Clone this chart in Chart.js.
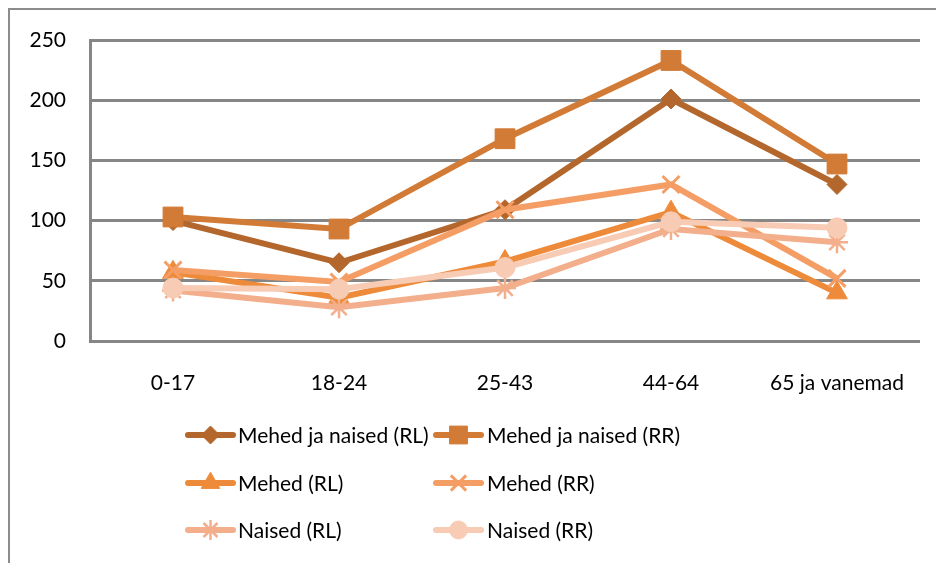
<!DOCTYPE html>
<html>
<head>
<meta charset="utf-8">
<script src="https://cdn.jsdelivr.net/npm/chart.js@4/dist/chart.umd.min.js"></script>
<style>
  html, body { margin: 0; padding: 0; background: #fff; }
  #wrap { width: 936px; height: 563px; position: relative; }
</style>
</head>
<body>
<div id="wrap"><canvas id="c" width="936" height="563"></canvas></div>
<script>
const categories = ['0-17', '18-24', '25-43', '44-64', '65 ja vanemad'];
const seriesNames = ['Mehed ja naised (RL)', 'Mehed ja naised (RR)', 'Mehed (RL)', 'Mehed (RR)', 'Naised (RL)', 'Naised (RR)'];
const menWomenRL = [100, 65, 109, 201, 130];
const menWomenRR = [103, 93, 168, 233, 147];
const menRL = [57, 36, 66, 107, 40];
const menRR = [59, 49, 109, 130, 52];
const womenRL = [42, 28, 44, 93, 82];
const womenRR = [44, 43, 61, 99, 94];
const yTicks = [0, 50, 100, 150, 200, 250];

const colors = ['#B4672C', '#D27B36', '#EE8B3B', '#F49E66', '#F3AE8C', '#F7CBB4'];
const styles = [
  { pointStyle: 'rectRot', radius: 10, pbw: 1 },
  { pointStyle: 'rect', radius: 14, pbw: 1 },
  { pointStyle: 'triangle', radius: 12, pbw: 1 },
  { pointStyle: 'crossRot', radius: 12, pbw: 3 },
  { pointStyle: 'star', radius: 11, pbw: 2.5 },
  { pointStyle: 'circle', radius: 10, pbw: 1 }
];
const values = [menWomenRL, menWomenRR, menRL, menRR, womenRL, womenRR];

const datasets = values.map((v, i) => ({
  label: seriesNames[i],
  data: v,
  borderColor: colors[i],
  backgroundColor: colors[i],
  borderWidth: 6,
  pointStyle: styles[i].pointStyle,
  pointRadius: styles[i].radius,
  pointHoverRadius: styles[i].radius,
  pointBorderWidth: styles[i].pbw,
  pointBackgroundColor: colors[i],
  pointBorderColor: colors[i],
  tension: 0,
  order: 10 - i
}));

const FONT = 'Lato, "Open Sans", sans-serif';

const frame = {
  id: 'frame',
  beforeDraw(chart) {
    const ctx = chart.ctx;
    ctx.save();
    ctx.strokeStyle = '#8c8c8c';
    ctx.lineWidth = 2;
    ctx.strokeRect(9, 9, 1000, 1000);
    ctx.restore();
  }
};

const legendGrid = {
  id: 'legendGrid',
  afterDraw(chart) {
    const ctx = chart.ctx;
    const cols = [{ x1: 188, x2: 233, tx: 238 }, { x1: 436, x2: 481, tx: 487 }];
    const rows = [435, 483, 530];
    ctx.save();
    chart.data.datasets.forEach((ds, i) => {
      const col = cols[i % 2];
      const y = rows[Math.floor(i / 2)];
      ctx.strokeStyle = ds.borderColor;
      ctx.lineWidth = 6;
      ctx.lineCap = 'round';
      ctx.beginPath();
      ctx.moveTo(col.x1, y);
      ctx.lineTo(col.x2, y);
      ctx.stroke();
      ctx.fillStyle = ds.backgroundColor;
      ctx.strokeStyle = ds.borderColor;
      ctx.lineWidth = ds.pointBorderWidth;
      ctx.lineCap = 'butt';
      Chart.helpers.drawPoint(ctx, {
        pointStyle: ds.pointStyle,
        rotation: 0,
        radius: ds.pointRadius * 0.9,
        borderWidth: ds.pointBorderWidth
      }, (col.x1 + col.x2) / 2, y);
      ctx.fillStyle = '#000';
      ctx.font = '21px ' + FONT;
      ctx.textBaseline = 'middle';
      ctx.textAlign = 'left';
      ctx.fillText(ds.label, col.tx, y + 1);
    });
    ctx.restore();
  }
};

new Chart(document.getElementById('c'), {
  type: 'line',
  data: { labels: categories, datasets },
  plugins: [frame, legendGrid],
  options: {
    responsive: false,
    animation: false,
    events: [],
    layout: { padding: { left: 10, top: 40, right: 16, bottom: 162 } },
    plugins: { legend: { display: false }, tooltip: { enabled: false } },
    scales: {
      x: {
        offset: true,
        grid: { display: false, drawTicks: false },
        border: { display: false },
        ticks: { color: '#000', font: { family: FONT, size: 21 }, padding: 30, maxRotation: 0 },
        afterFit(s) { s.height = 60; }
      },
      y: {
        min: 0, max: 250,
        afterBuildTicks(s) { s.ticks = yTicks.map(v => ({ value: v })); },
        grid: { color: '#868686', lineWidth: 3, drawTicks: false },
        border: { display: true, color: '#868686', width: 3 },
        ticks: { color: '#000', font: { family: FONT, size: 21 }, padding: 24 },
        afterFit(s) { s.width = 80; }
      }
    }
  }
});
</script>
</body>
</html>
